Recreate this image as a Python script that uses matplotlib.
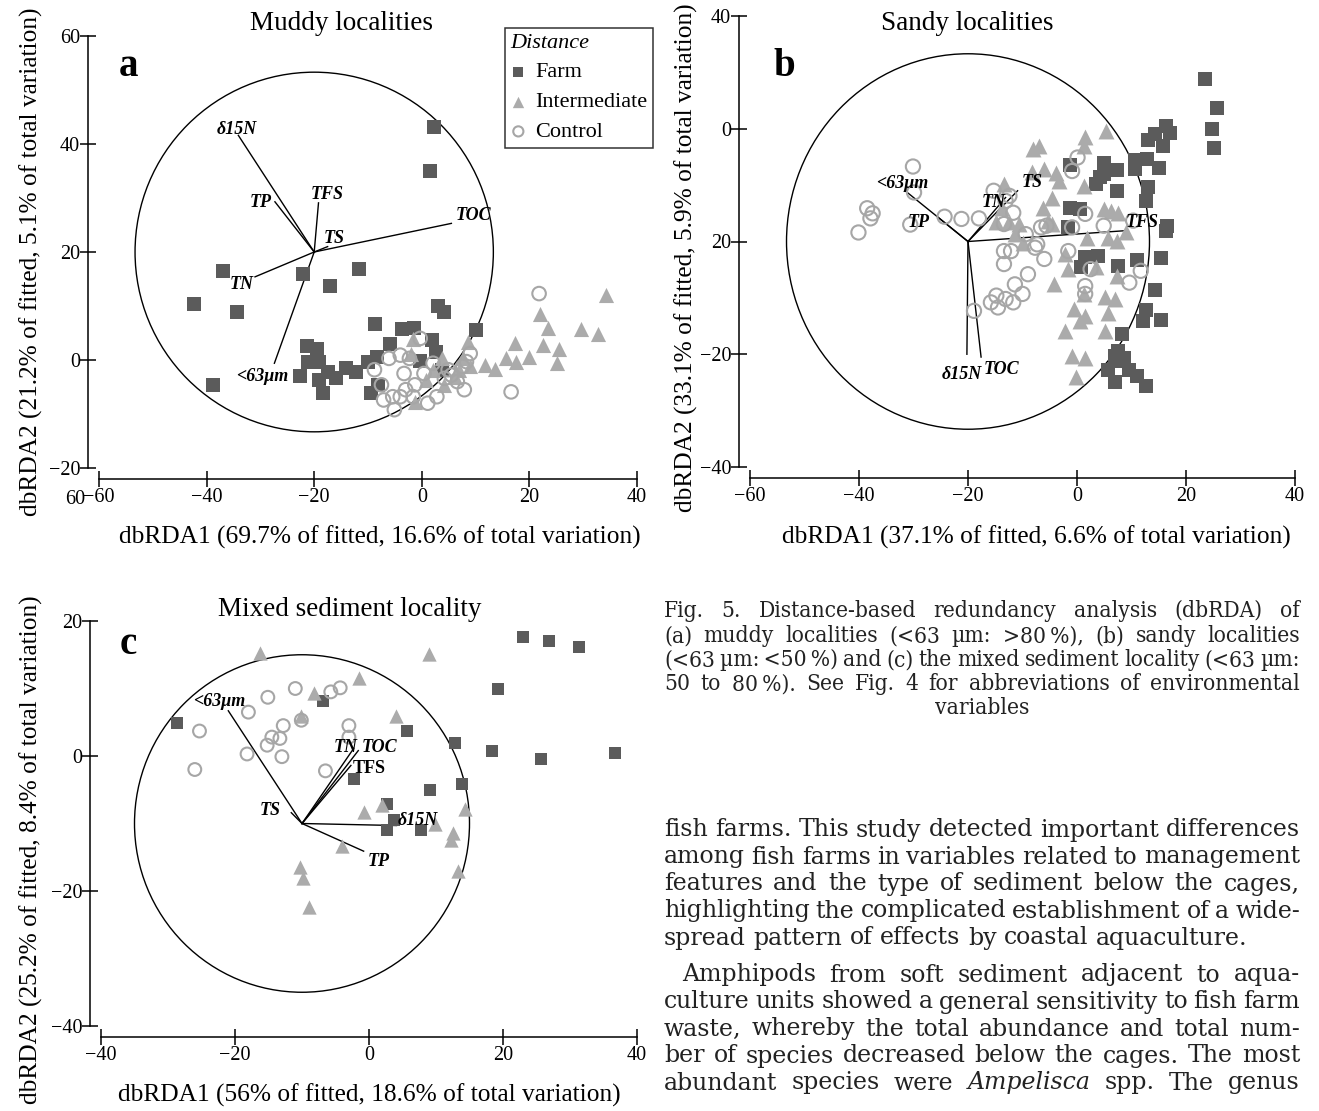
import matplotlib
matplotlib.use("Agg")
import matplotlib.pyplot as plt
from matplotlib.patches import Circle

W, H = 1319, 1111

# ---------------- panel a: muddy localities ----------------
farm_a_x = [2.3, 1.6, -36.9, -22.0, -11.6, -17.0, -42.4, -34.4, 3.0, 4.1, -8.7, 10.0,
            -3.6, -1.5, 1.9, -5.9, -21.3, -19.4, 2.7, -10.0, -8.3, -0.3, -21.1, -19.1,
            -22.7, -17.4, -14.1, -12.2, -15.9, -19.2, -18.4, -38.9, 3.8, -8.1, -9.5]
farm_a_y = [43.2, 35.0, 16.5, 16.0, 16.8, 13.7, 10.3, 8.9, 10.0, 8.9, 6.7, 5.5,
            5.7, 6.0, 3.7, 3.0, 2.6, 2.0, 1.4, -0.3, 0.6, -0.1, -0.3, -0.3,
            -2.9, -2.2, -1.5, -2.3, -3.4, -3.7, -6.2, -4.6, -1.8, -4.6, -6.2]
inter_a_x = [34.2, 21.9, 23.4, 29.5, 32.7, 17.4, 22.6, 25.5, 19.9, 15.6, 17.5, 11.7, 13.6,
             25.2, 8.6, -1.6, -2.0, 3.8, 2.1, 6.9, 0.8, 4.2, 6.2, -1.3, 7.6, 9.0]
inter_a_y = [12.0, 8.6, 5.9, 5.7, 4.9, 3.2, 2.8, 2.0, 0.6, 0.3, -0.3, -0.9, -1.7,
             -0.6, 3.4, 3.8, 1.2, 0.3, -1.8, -1.8, -3.7, -4.6, -3.1, -7.7, 0.3, -1.2]
ctrl_a_x = [21.8, 16.6, -0.3, -4.0, -6.1, -2.3, 9.0, 8.3, 7.6, 6.6, 7.9, -7.5, -5.4, -7.1,
            -5.1, -3.0, -1.3, 1.1, 2.8, 4.2, 0.4, -3.3, 2.1, 4.9, 5.5, -8.8, -4.0, -1.6]
ctrl_a_y = [12.3, -5.9, 4.0, 0.9, 0.3, 0.3, 1.2, -0.3, -1.2, -4.0, -5.5, -4.6, -6.8, -7.4,
            -9.2, -5.5, -4.6, -8.0, -6.8, -3.4, -2.5, -2.5, -0.6, -1.8, -2.8, -1.8, -6.8, -6.8]
vec_a_names = ["δ15N", "TP", "TFS", "TOC", "TS", "TN", "<63μm"]
vec_a_x = [-34.1, -27.3, -19.2, 5.5, -17.5, -31.0, -27.4]
vec_a_y = [41.6, 29.3, 29.1, 25.3, 21.0, 15.4, -0.6]
lab_a_x = [-34.4, -30.0, -17.6, 9.6, -16.2, -33.4, -29.7]
lab_a_y = [42.6, 29.1, 30.7, 26.8, 22.5, 13.9, -3.1]

# ---------------- panel b: sandy localities ----------------
farm_b_x = [23.5, 25.7, 24.7, 25.1, 16.4, 17.1, 14.4, 15.7, 13.0, 12.9, 10.7, 10.7, 15.1,
            7.3, 4.9, 4.9, 4.2, 3.5, -1.2, 13.0, 7.3, 12.7, -1.2, 0.5, 16.6, 16.3, -1.6,
            3.9, 1.5, 0.8, 11.0, 15.4, 7.6, 14.4, 12.7, 12.2, 15.4, 8.3, 7.6, 6.9, 7.6,
            5.6, 9.6, 6.9, 11.0, 12.7, 8.6]
farm_b_y = [28.9, 23.7, 19.9, 16.6, 20.4, 19.3, 19.1, 17.0, 18.0, 14.6, 14.4, 12.8, 13.1,
            12.7, 14.0, 12.0, 11.4, 10.2, 13.6, 9.7, 8.9, 7.2, 6.0, 5.7, 2.8, 1.8, 2.5,
            -2.5, -2.8, -4.6, -3.3, -3.0, -4.3, -8.6, -12.2, -14.1, -14.0, -16.4, -19.4, -20.3, -21.2,
            -22.8, -22.8, -24.9, -23.8, -25.6, -20.7]
inter_b_x = [5.4, 1.5, 1.2, -8.1, -7.0, -8.3, -6.0, -3.9, -3.3, -13.4, 1.2, -4.6, -6.3, -13.8,
             -12.4, -10.7, -14.8, -11.4, -10.0, 4.9, 6.2, 7.6, 9.0, 1.8, 5.6, 7.3, -2.2, -1.6,
             3.5, 7.3, -4.3, 1.2, 5.2, 6.9, -0.5, 1.5, 0.5, 5.6, -2.2, 5.2, -0.9, 1.5, -0.2,
             -4.6, -5.3]
inter_b_y = [19.6, 18.5, 17.0, 16.4, 17.0, 12.4, 12.8, 12.2, 10.8, 10.2, 9.9, 7.8, 6.0, 6.0,
             3.4, 3.1, 3.4, 1.3, -0.2, 5.7, 5.4, 5.1, 1.6, 0.7, 0.7, 0.1, -2.2, -4.9,
             -4.6, -6.1, -7.6, -9.3, -9.9, -10.2, -12.0, -13.2, -14.1, -12.6, -15.9, -15.9, -20.3, -20.6, -24.1,
             3.1, 3.7]
ctrl_b_x = [-30.1, -29.9, -38.5, -37.5, -37.9, -40.1, -30.6, -24.3, -21.2, -18.0, -15.3, -12.4,
            -13.1, -11.7, -13.4, -9.4, -7.3, -7.7, -5.6, -6.6, -13.4, -12.1, -13.4, -9.0, -11.4,
            -10.0, -14.8, -15.8, -14.5, -13.1, -11.7, -18.9, -6.0, -1.6, -0.9, 1.5, -0.9, 0.1,
            4.9, 2.5, 1.5, 1.5, 9.6, 11.7, 10.3]
ctrl_b_y = [13.3, 8.7, 5.9, 5.0, 4.1, 1.6, 3.0, 4.4, 4.0, 4.1, 9.0, 8.1,
            7.2, 5.1, 3.1, 1.3, -0.5, -1.1, 2.8, 2.5, -1.7, -1.7, -4.0, -5.8, -7.6,
            -9.3, -9.6, -10.8, -11.7, -10.2, -10.8, -12.3, -3.1, -1.7, 2.5, 4.9, 12.5, 14.9,
            2.8, -4.9, -7.9, -9.3, -7.3, -5.2, 3.7]
vec_b_names = ["<63μm", "TP", "TN", "TS", "TFS", "δ15N", "TOC"]
vec_b_x = [-31.4, -25.5, -13.1, -10.9, 8.6, -20.2, -17.6]
vec_b_y = [8.9, 4.3, 7.8, 9.0, 1.9, -20.0, -20.5]
lab_b_x = [-32.1, -29.0, -15.3, -8.3, 12.0, -21.2, -13.8]
lab_b_y = [10.2, 3.4, 6.9, 10.5, 3.4, -23.6, -22.7]
yticks_b = [40, 20, 0, -20, -40]
ytick_labels_b = ["40", "0", "20", "\u221220", "\u221240"]

# ---------------- panel c: mixed sediment locality ----------------
farm_c_x = [23.0, 26.9, 31.4, 19.3, 36.7, 18.4, 25.7, 12.8, 13.9, 5.7, -6.9, -28.6, -2.3,
            9.1, 2.7, 3.8, 2.7, 7.8]
farm_c_y = [17.6, 17.0, 16.1, 9.9, 0.5, 0.8, -0.4, 2.0, -4.2, 3.7, 8.1, 4.9, -3.4,
            -5.1, -7.1, -9.5, -10.9, -10.9]
inter_c_x = [-16.3, 8.9, -1.5, -8.2, -10.1, 4.1, 1.9, -0.8, 9.9, 14.3, 12.5, 12.2, 13.3,
             -4.1, -10.3, -9.8, -9.0]
inter_c_y = [15.2, 15.1, 11.6, 9.3, 6.0, 6.0, -7.3, -8.3, -10.0, -7.9, -11.4, -12.4, -17.1,
             -13.4, -16.5, -18.0, -22.3]
ctrl_c_x = [-11.0, -15.1, -18.0, -25.3, -26.0, -18.2, -15.2, -14.5, -13.3, -12.8, -13.0,
            -10.1, -5.7, -4.3, -3.0, -3.0, -6.5]
ctrl_c_y = [10.0, 8.7, 6.5, 3.7, -2.0, 0.3, 1.6, 2.8, 2.6, 4.5, -0.1,
            5.3, 9.5, 10.1, 4.5, 2.8, -2.2]
vec_c_names = ["<63μm", "TS", "TN", "TOC", "TFS", "δ15N", "TP"]
vec_c_x = [-21.0, -11.6, -2.3, -1.6, -2.7, 4.1, -0.8]
vec_c_y = [6.7, -8.4, 1.1, 0.8, -1.4, -10.3, -14.1]
lab_c_x = [-22.3, -14.7, -3.5, 1.6, 0.0, 7.3, 1.4]
lab_c_y = [8.0, -8.1, 1.3, 1.3, -1.8, -9.5, -15.7]

FARM = "#5b5b5b"
INTER = "#ababab"
CTRL = "#a6a6a6"

plt.rcParams["font.family"] = ["Liberation Serif", "DejaVu Serif"]

fig = plt.figure(figsize=(W / 100, H / 100), dpi=100)


def fbox(left, top, right, bottom):
    return [left / W, 1 - bottom / H, (right - left) / W, (bottom - top) / H]


def style_axes(ax, xlim, ylim, xticks, yticks):
    ax.set_xlim(xlim)
    ax.set_ylim(ylim)
    ax.set_xticks(xticks)
    ax.set_yticks(yticks)
    ax.set_xticklabels([str(v).replace("-", "\u2212") for v in xticks])
    ax.set_yticklabels([str(v).replace("-", "\u2212") for v in yticks])
    for s in ["top", "right"]:
        ax.spines[s].set_visible(False)
    ax.spines["left"].set_position(("outward", 8))
    ax.spines["bottom"].set_position(("outward", 8))
    ax.spines["left"].set_bounds(ylim[0], ylim[1])
    ax.spines["bottom"].set_bounds(xlim[0], xlim[1])
    for s in ["left", "bottom"]:
        ax.spines[s].set_linewidth(1.1)
    ax.tick_params(direction="inout", length=11, width=1.1, labelsize=14.5, pad=1)
    ax.tick_params(axis="y", pad=0)
    ax.patch.set_visible(False)


def draw_panel(ax, fx, fy, ix, iy, cx, cy, names, vx, vy, lx, ly, center, radius, msize,
               upright=()):
    ax.add_patch(Circle(center, radius, fill=False, lw=1.0, ec="black", zorder=1))
    for n, x, y, tx, ty in zip(names, vx, vy, lx, ly):
        ax.plot([center[0], x], [center[1], y], color="black", lw=1.0, zorder=2)
        st = "normal" if n in upright else "italic"
        ax.text(tx, ty, n, fontsize=13, fontweight="bold", fontstyle=st,
                ha="center", va="center", zorder=5)
    hf = ax.scatter(fx, fy, marker="s", s=msize, c=FARM, linewidths=0, zorder=3,
                    clip_on=False, label="Farm")
    hi = ax.scatter(ix, iy, marker="^", s=msize * 1.25, c=INTER, linewidths=0, zorder=3,
                    clip_on=False, label="Intermediate")
    hc = ax.scatter(cx, cy, marker="o", s=msize, facecolors="none", edgecolors=CTRL,
                    linewidths=1.5, zorder=4, clip_on=False, label="Control")
    return hf, hi, hc


# panel a
ax_a = fig.add_axes(fbox(99, 36, 637, 468))
style_axes(ax_a, (-60, 40), (-20, 60), [-60, -40, -20, 0, 20, 40], [60, 40, 20, 0, -20])
handles = draw_panel(ax_a, farm_a_x, farm_a_y, inter_a_x, inter_a_y, ctrl_a_x, ctrl_a_y,
                     vec_a_names, vec_a_x, vec_a_y, lab_a_x, lab_a_y, (-20, 20), 33.3, 95)

# panel b
ax_b = fig.add_axes(fbox(750, 16, 1295, 467))
style_axes(ax_b, (-60, 40), (-40, 40), [-60, -40, -20, 0, 20, 40], yticks_b)
ax_b.set_yticklabels(ytick_labels_b)
draw_panel(ax_b, farm_b_x, farm_b_y, inter_b_x, inter_b_y, ctrl_b_x, ctrl_b_y,
           vec_b_names, vec_b_x, vec_b_y, lab_b_x, lab_b_y, (-20, 0), 33.3, 105)

# panel c
ax_c = fig.add_axes(fbox(101, 621, 637, 1026))
style_axes(ax_c, (-40, 40), (-40, 20), [-40, -20, 0, 20, 40], [20, 0, -20, -40])
draw_panel(ax_c, farm_c_x, farm_c_y, inter_c_x, inter_c_y, ctrl_c_x, ctrl_c_y,
           vec_c_names, vec_c_x, vec_c_y, lab_c_x, lab_c_y, (-10, -10), 25.0, 85,
           upright=("TFS",))


def ftext(x, y, s, **kw):
    return fig.text(x / W, 1 - y / H, s, **kw)


lab_kw = dict(fontsize=18.3, ha="center", va="center")
ftext(380, 537, "dbRDA1 (69.7% of fitted, 16.6% of total variation)", **lab_kw)
ftext(1036, 537, "dbRDA1 (37.1% of fitted, 6.6% of total variation)", **lab_kw)
ftext(369, 1095, "dbRDA1 (56% of fitted, 18.6% of total variation)", **lab_kw)
ftext(31, 262, "dbRDA2 (21.2% of fitted, 5.1% of total variation)", rotation=90, **lab_kw)
ftext(686, 258, "dbRDA2 (33.1% of fitted, 5.9% of total variation)", rotation=90, **lab_kw)
ftext(31, 850, "dbRDA2 (25.2% of fitted, 8.4% of total variation)", rotation=90, **lab_kw)

ftext(342, 24, "Muddy localities", fontsize=19.5, ha="center", va="center")
ftext(967, 24, "Sandy localities", fontsize=19.5, ha="center", va="center")
ftext(350, 610, "Mixed sediment locality", fontsize=19.5, ha="center", va="center")
ftext(128, 66, "a", fontsize=28, fontweight="bold", ha="center", va="center")
ftext(784, 66, "b", fontsize=28, fontweight="bold", ha="center", va="center")
ftext(128, 645, "c", fontsize=28, fontweight="bold", ha="center", va="center")
ftext(75, 500, "60", fontsize=14.5, ha="center", va="center")

leg = fig.legend(handles=handles, title="Distance", loc="upper left",
                 bbox_to_anchor=(505 / W, 1 - 28 / H), frameon=True, fancybox=False,
                 edgecolor="black", fontsize=16, markerscale=0.75, handlelength=0.7,
                 handletextpad=0.4, borderpad=0.25, labelspacing=0.42, alignment="left",
                 title_fontproperties={"style": "italic", "size": 16}, borderaxespad=0)
leg.get_frame().set_linewidth(1.1)

# ---------------- caption and body text (justified lines) ----------------
caption_lines = [
    "Fig. 5. Distance-based redundancy analysis (dbRDA) of",
    "(a) muddy localities (<63 \u00b5m: >80\u2009%), (b) sandy localities",
    "(<63 \u00b5m:\u2009<50\u2009%) and (c) the mixed sediment locality (<63 \u00b5m:",
    "50 to 80\u2009%). See Fig. 4 for abbreviations of environmental",
]
caption_y = [611, 636, 660, 684]
body_lines = [
    "fish farms. This study detected important differences",
    "among fish farms in variables related to management",
    "features and the type of sediment below the cages,",
    "highlighting the complicated establishment of a wide-",
    "spread pattern of effects by coastal aquaculture.",
    "Amphipods from soft sediment adjacent to aqua-",
    "culture units showed a general sensitivity to fish farm",
    "waste, whereby the total abundance and total num-",
    "ber of species decreased below the cages. The most",
    "abundant species were _Ampelisca_ spp. The genus",
]
body_y = [830, 857, 884, 911, 938, 975, 1002, 1029, 1056, 1083]
body_justify = [True, True, True, True, False, True, True, True, True, True]
body_indent = [0, 0, 0, 0, 0, 18, 0, 0, 0, 0]

rend = fig.canvas.get_renderer()


def width_of(s, **kw):
    t = fig.text(0, 0, s, **kw)
    w = t.get_window_extent(rend).width
    t.remove()
    return w


def set_block(lines, ys, x0, x1, justify, indent, size, **kw):
    space = width_of("x x", fontsize=size, **kw) - width_of("xx", fontsize=size, **kw)
    # shrink font if the tightest line would not fit
    worst = 0
    for ln, ind in zip(lines, indent):
        words = ln.split(" ")
        nat = sum(width_of(w.strip("_"), fontsize=size, **kw) for w in words)
        nat += space * 0.8 * (len(words) - 1)
        worst = max(worst, nat / (x1 - x0 - ind))
    if worst > 1:
        size = size / worst
        space = space / worst
    for ln, y, jus, ind in zip(lines, ys, justify, indent):
        arts, widths = [], []
        for w in ln.split(" "):
            it = w.startswith("_")
            a = ftext(0, y, w.strip("_"), fontsize=size, ha="left", va="center",
                      fontstyle="italic" if it else "normal", **kw)
            arts.append(a)
            widths.append(a.get_window_extent(rend).width)
        start = x0 + ind
        gap = (x1 - start - sum(widths)) / (len(arts) - 1) if jus else space
        x = start
        for a, w in zip(arts, widths):
            a.set_x(x / W)
            x += w + gap
    return size


cap_size = set_block(caption_lines, caption_y, 664, 1300, [True] * 4, [0] * 4, 18,
                     family="DejaVu Serif", fontstretch="condensed", color="#222222")
ftext(982, 708, "variables", fontsize=cap_size, ha="center", va="center",
      family="DejaVu Serif", fontstretch="condensed", color="#222222")
set_block(body_lines, body_y, 664, 1300, body_justify, body_indent, 18,
          family="DejaVu Serif", color="#222222")

fig.savefig("out.png", dpi=100)
